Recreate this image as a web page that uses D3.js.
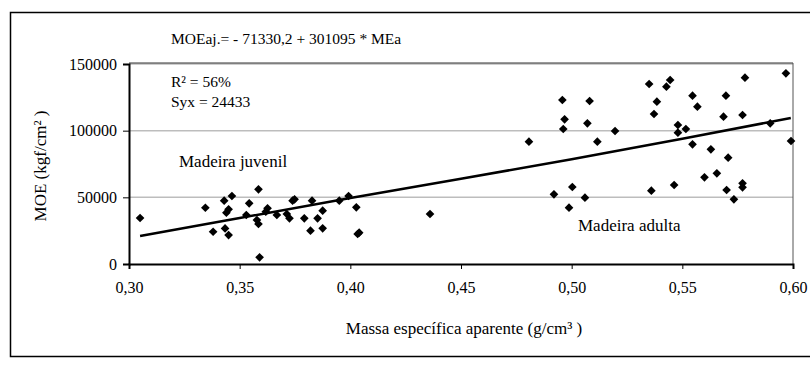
<!DOCTYPE html>
<html>
<head>
<meta charset="utf-8">
<script src="https://cdn.jsdelivr.net/npm/d3@7"></script>
<style>
  html, body { margin: 0; padding: 0; background: #fff; }
  svg { display: block; }
  text { font-family: "Liberation Serif", "Times New Roman", serif; fill: #000; }
</style>
</head>
<body>
<svg id="chart" width="810" height="368"></svg>
<script>
// ---- data ----
const juvenilX = [0.305,0.3345,0.338,0.343,0.3465,0.345,0.344,0.3434,0.345,0.3585,0.3543,0.353,0.3578,0.3585,0.359,0.3618,0.3626,0.3668,0.3713,0.3725,0.3739,0.3748,0.3792,0.382,0.3827,0.3852,0.3875,0.3875,0.395,0.3992,0.4027,0.4033,0.404,0.436];
const juvenilY = [34500,42200,24200,47500,51000,41000,38500,26700,21700,56000,45500,36750,33000,30000,5000,39250,41750,36750,37500,34250,47500,48500,34250,25000,47500,34250,26750,40000,47500,51000,42500,22500,23500,37500];
const adultaX = [0.4807,0.4958,0.5081,0.4968,0.5071,0.4962,0.5196,0.5116,0.5003,0.492,0.506,0.4988,0.535,0.5445,0.5428,0.5385,0.5372,0.5546,0.5568,0.548,0.5516,0.548,0.5546,0.5629,0.56,0.5656,0.5463,0.536,0.5783,0.5968,0.5697,0.5686,0.5772,0.5897,0.5991,0.5707,0.5772,0.5772,0.57,0.5733];
const adultaY = [91750,123000,122250,108500,105500,101250,99750,91750,57750,52250,49750,42250,135000,138000,133000,121750,112500,126250,118000,104250,101250,98500,89750,86000,65000,68000,59250,55000,139750,143000,126250,110500,111750,105500,92250,79750,60500,57500,55500,48500];
const trendX = [0.305,0.35,0.40,0.45,0.50,0.55,0.599];
const trendY = [21000,34500,49500,64000,78500,94000,109500];
const xTicks = [0.30,0.35,0.40,0.45,0.50,0.55,0.60];
const yTicks = [0,50000,100000,150000];
const equationText = "MOEaj.= - 71330,2 + 301095 * MEa";
const r2Text = "R² = 56%";
const syxText = "Syx = 24433";
const juvenilLabel = "Madeira juvenil";
const adultaLabel = "Madeira adulta";
const xLabel = "Massa específica aparente (g/cm³ )";
const yLabel = "MOE (kgf/cm² )";

// ---- layout ----
const svg = d3.select("#chart");
const L = 129, R = 793, T = 64, B = 264;
const x = d3.scaleLinear().domain([0.30, 0.60]).range([L, R]);
const y = d3.scaleLinear().domain([0, 150000]).range([B, T]);
const fmtX = v => d3.format(".2f")(v).replace(".", ",");

// outer frame
svg.append("rect").attr("x", 10.5).attr("y", 12.5).attr("width", 805).attr("height", 344)
  .attr("fill", "none").attr("stroke", "#000").attr("stroke-width", 1.5);

// gridlines
svg.append("g").selectAll("line").data(yTicks.filter(d => d > 0)).join("line")
  .attr("x1", L).attr("x2", R).attr("y1", d => y(d)).attr("y2", d => y(d))
  .attr("stroke", "#bdbdbd").attr("stroke-width", 1.5);

// plot border top and right
svg.append("line").attr("x1", L).attr("x2", R).attr("y1", T - 1).attr("y2", T - 1)
  .attr("stroke", "#333").attr("stroke-width", 1);
svg.append("line").attr("x1", R).attr("x2", R).attr("y1", T - 1).attr("y2", B)
  .attr("stroke", "#555").attr("stroke-width", 1);

// axes
const xAxis = svg.append("g").attr("transform", `translate(0,${B})`)
  .call(d3.axisBottom(x).tickValues(xTicks).tickFormat(fmtX).tickSize(5));
xAxis.selectAll(".tick text").attr("y", 29).attr("dy", null);
const yAxis = svg.append("g").attr("transform", `translate(${L},0)`)
  .call(d3.axisLeft(y).tickValues(yTicks).tickFormat(d3.format("d")).tickSize(6).tickPadding(6));
[xAxis, yAxis].forEach(g => {
  g.select(".domain").attr("stroke", "#000").attr("stroke-width", 2);
  g.selectAll(".tick line").attr("stroke", "#000");
  g.selectAll(".tick text").style("font-family", '"Liberation Serif", serif').style("font-size", "16px").attr("fill", "#000");
});

// trend line
svg.append("path")
  .datum(trendX.map((v, i) => [v, trendY[i]]))
  .attr("d", d3.line().x(d => x(d[0])).y(d => y(d[1])))
  .attr("fill", "none").attr("stroke", "#000").attr("stroke-width", 2.5);

// points
const diamond = d3.symbol().type(d3.symbolDiamond2).size(48);
const pts = juvenilX.map((v, i) => [v, juvenilY[i]]).concat(adultaX.map((v, i) => [v, adultaY[i]]));
svg.append("g").selectAll("path").data(pts).join("path")
  .attr("d", diamond)
  .attr("transform", d => `translate(${x(d[0])},${y(d[1])})`)
  .attr("fill", "#000");

// texts
svg.append("text").attr("x", 171).attr("y", 44).style("font-size", "15.5px").text(equationText);
svg.append("text").attr("x", 171).attr("y", 87).style("font-size", "15.5px").text(r2Text);
svg.append("text").attr("x", 171).attr("y", 106.5).style("font-size", "15.5px").text(syxText);
svg.append("text").attr("x", 179).attr("y", 167).style("font-size", "17px").text(juvenilLabel);
svg.append("text").attr("x", 578).attr("y", 231).style("font-size", "17px").text(adultaLabel);
svg.append("text").attr("x", 464).attr("y", 334).attr("text-anchor", "middle").style("font-size", "17px").text(xLabel);
svg.append("text").attr("transform", "translate(46,166) rotate(-90)").attr("text-anchor", "middle").style("font-size", "17px").text(yLabel);
</script>
</body>
</html>
